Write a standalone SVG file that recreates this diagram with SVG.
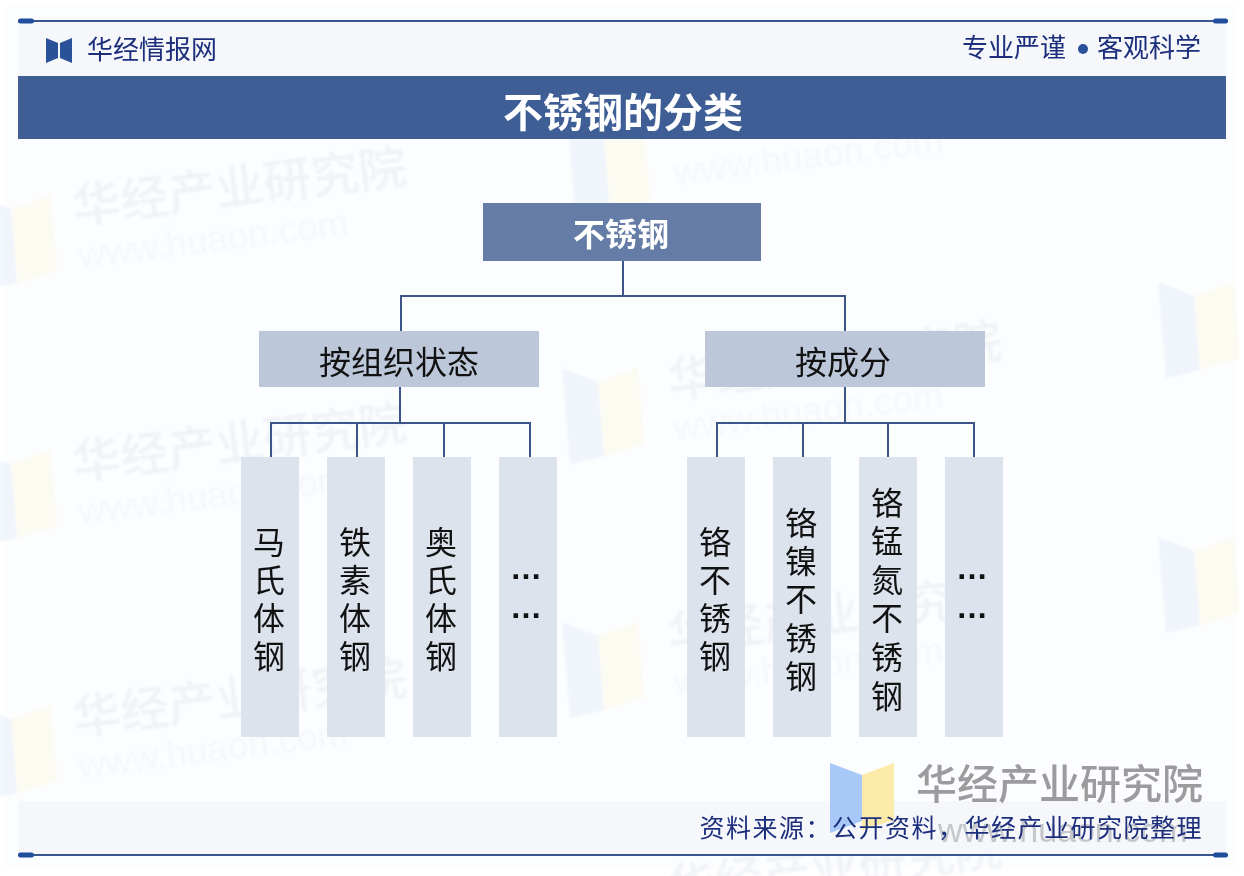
<svg xmlns="http://www.w3.org/2000/svg" width="1244" height="876" viewBox="0 0 1244 876">
<style>
text{font-family:"Noto Sans CJK SC","Liberation Sans",sans-serif}
.wm{font-size:48px;fill:#e6e9f0;opacity:.5;font-weight:500}
.wu{font-size:37px;fill:#e9ecf2;opacity:.3;font-family:"Liberation Sans",sans-serif}
.wb{fill:#dfe9f9;opacity:.4}
.wy{fill:#fdf6dc;opacity:.35}
.strip{fill:#f4f6fb;opacity:.9}
.rule{stroke:#37588f;stroke-width:2;fill:none}
.cap{fill:#1f4e9c}
.hd{font-size:26px;fill:#1d2f7c}
.leaf{fill:#dce3ed}
.l2{fill:#bcc7d9}
.t{font-size:32px;fill:#111;text-anchor:middle}
.dots{font-family:"Liberation Sans",sans-serif;font-weight:700}
.conn{stroke:#3d5689;stroke-width:2;fill:none}
</style>
<defs>
<g id="wlogo"><polygon class="wb" points="0,0 36,14 42,88 8,96"/><polygon class="wy" points="36,14 76,0 82,76 42,88"/></g>
<filter id="soft" x="-5%" y="-5%" width="110%" height="110%"><feGaussianBlur stdDeviation="1.2"/></filter>
</defs>
<rect width="1244" height="876" fill="#fff"/>
<rect x="6" y="6" width="1232" height="864" fill="#fcfdfe"/>
<g id="watermarks" filter="url(#soft)">
<text class="wm" x="75" y="224" transform="rotate(-7 75 224)">华经产业研究院</text>
<text class="wu" x="80" y="268" transform="rotate(-7 80 268)">www.huaon.com</text>
<text class="wm" x="75" y="480" transform="rotate(-7 75 480)">华经产业研究院</text>
<text class="wu" x="80" y="524" transform="rotate(-7 80 524)">www.huaon.com</text>
<text class="wm" x="75" y="735" transform="rotate(-7 75 735)">华经产业研究院</text>
<text class="wu" x="80" y="778" transform="rotate(-7 80 778)">www.huaon.com</text>
<text class="wu" x="675" y="185" transform="rotate(-7 675 185)">www.huaon.com</text>
<text class="wm" x="670" y="398" transform="rotate(-7 670 398)">华经产业研究院</text>
<text class="wu" x="675" y="440" transform="rotate(-7 675 440)">www.huaon.com</text>
<text class="wm" x="670" y="652" transform="rotate(-7 670 652)">华经产业研究院</text>
<text class="wu" x="675" y="695" transform="rotate(-7 675 695)">www.huaon.com</text>
<text class="wm" x="670" y="905" transform="rotate(-7 670 905)">华经产业研究院</text>
<use href="#wlogo" x="-25" y="195"/>
<use href="#wlogo" x="-25" y="450"/>
<use href="#wlogo" x="-25" y="705"/>
<use href="#wlogo" x="568" y="125"/>
<use href="#wlogo" x="562" y="368"/>
<use href="#wlogo" x="562" y="622"/>
<use href="#wlogo" x="1158" y="282"/>
<use href="#wlogo" x="1158" y="537"/>
</g>
<g id="header">
<rect class="strip" x="18" y="21" width="1208" height="55"/>
<rect class="strip" x="18" y="801" width="1208" height="54"/>
</g>
<g id="brand-mark">
<polygon points="830,763 862,775 862,821 830,833" fill="#a8c9f7"/>
<polygon points="862,775 894,763 894,820 862,830" fill="#fbeaa8"/>
<text x="916" y="799" font-size="41" font-weight="500" fill="#9c9c9e">华经产业研究院</text>
<text x="938" y="842" font-size="34" fill="#c4c6ca" style="font-family:'Liberation Sans',sans-serif">www.huaon.com</text>
</g>
<g id="banner">
<line class="rule" x1="18" y1="21" x2="1226" y2="21"/>
<rect class="cap" x="18" y="18.500" width="16" height="5" rx="2.500"/>
<rect class="cap" x="1213" y="18.500" width="15" height="5" rx="2.500"/>
<line class="rule" x1="18" y1="855" x2="1226" y2="855"/>
<rect class="cap" x="18" y="852.500" width="16" height="5" rx="2.500"/>
<rect class="cap" x="1213" y="852.500" width="15" height="5" rx="2.500"/>
<polygon points="46,38 58,43 58,58 46,63" fill="#2a5298"/>
<polygon points="60,43 72,38 72,63 60,58" fill="#2a5298"/>
<text class="hd" x="87" y="59">华经情报网</text>
<text class="hd" x="962" y="57">专业严谨</text>
<circle cx="1083" cy="49" r="5" fill="#2a5298"/>
<text class="hd" x="1097" y="57">客观科学</text>
<rect x="18" y="76" width="1208" height="63" fill="#3f5e95"/>
<text x="623" y="127" font-size="40" font-weight="700" fill="#fff" text-anchor="middle">不锈钢的分类</text>
<text x="1203" y="837" font-size="25" letter-spacing="1.500" fill="#1d2f7c" text-anchor="end">资料来源：公开资料，华经产业研究院整理</text>
</g>
<g id="connectors">
<path class="conn" d="M623 261V296M401 331V296H845V331"/>
<path class="conn" d="M400 387V423M271 457V423H530V457M357 423V457M444 423V457"/>
<path class="conn" d="M845 387V423M717 457V423H974V457M803 423V457M888 423V457"/>
</g>
<g id="root"><rect x="483" y="203" width="278" height="58" fill="#647ca6"/><text x="621" y="246" font-size="32" font-weight="700" fill="#fff" text-anchor="middle">不锈钢</text></g>
<g id="by-structure"><rect class="l2" x="259" y="331" width="280" height="56"/><text class="t" x="399" y="374">按组织状态</text></g>
<g id="by-composition"><rect class="l2" x="705" y="331" width="280" height="56"/><text class="t" x="843" y="374">按成分</text></g>
<g id="leaf-1"><rect class="leaf" x="241" y="457" width="58" height="280"/><text class="t"><tspan x="269" y="554">马</tspan><tspan x="269" y="592">氏</tspan><tspan x="269" y="630">体</tspan><tspan x="269" y="668">钢</tspan></text></g>
<g id="leaf-2"><rect class="leaf" x="327" y="457" width="58" height="280"/><text class="t"><tspan x="355" y="554">铁</tspan><tspan x="355" y="592">素</tspan><tspan x="355" y="630">体</tspan><tspan x="355" y="668">钢</tspan></text></g>
<g id="leaf-3"><rect class="leaf" x="413" y="457" width="58" height="280"/><text class="t"><tspan x="441" y="554">奥</tspan><tspan x="441" y="592">氏</tspan><tspan x="441" y="630">体</tspan><tspan x="441" y="668">钢</tspan></text></g>
<g id="leaf-4"><rect class="leaf" x="499" y="457" width="58" height="280"/><text class="t dots"><tspan x="526" y="579">…</tspan><tspan x="526" y="618">…</tspan></text></g>
<g id="leaf-5"><rect class="leaf" x="687" y="457" width="58" height="280"/><text class="t"><tspan x="715" y="554">铬</tspan><tspan x="715" y="592">不</tspan><tspan x="715" y="630">锈</tspan><tspan x="715" y="668">钢</tspan></text></g>
<g id="leaf-6"><rect class="leaf" x="773" y="457" width="58" height="280"/><text class="t"><tspan x="801" y="535">铬</tspan><tspan x="801" y="573">镍</tspan><tspan x="801" y="611">不</tspan><tspan x="801" y="650">锈</tspan><tspan x="801" y="688">钢</tspan></text></g>
<g id="leaf-7"><rect class="leaf" x="859" y="457" width="58" height="280"/><text class="t"><tspan x="887" y="515">铬</tspan><tspan x="887" y="553">锰</tspan><tspan x="887" y="592">氮</tspan><tspan x="887" y="630">不</tspan><tspan x="887" y="669">锈</tspan><tspan x="887" y="708">钢</tspan></text></g>
<g id="leaf-8"><rect class="leaf" x="945" y="457" width="58" height="280"/><text class="t dots"><tspan x="972" y="579">…</tspan><tspan x="972" y="618">…</tspan></text></g>
</svg>
